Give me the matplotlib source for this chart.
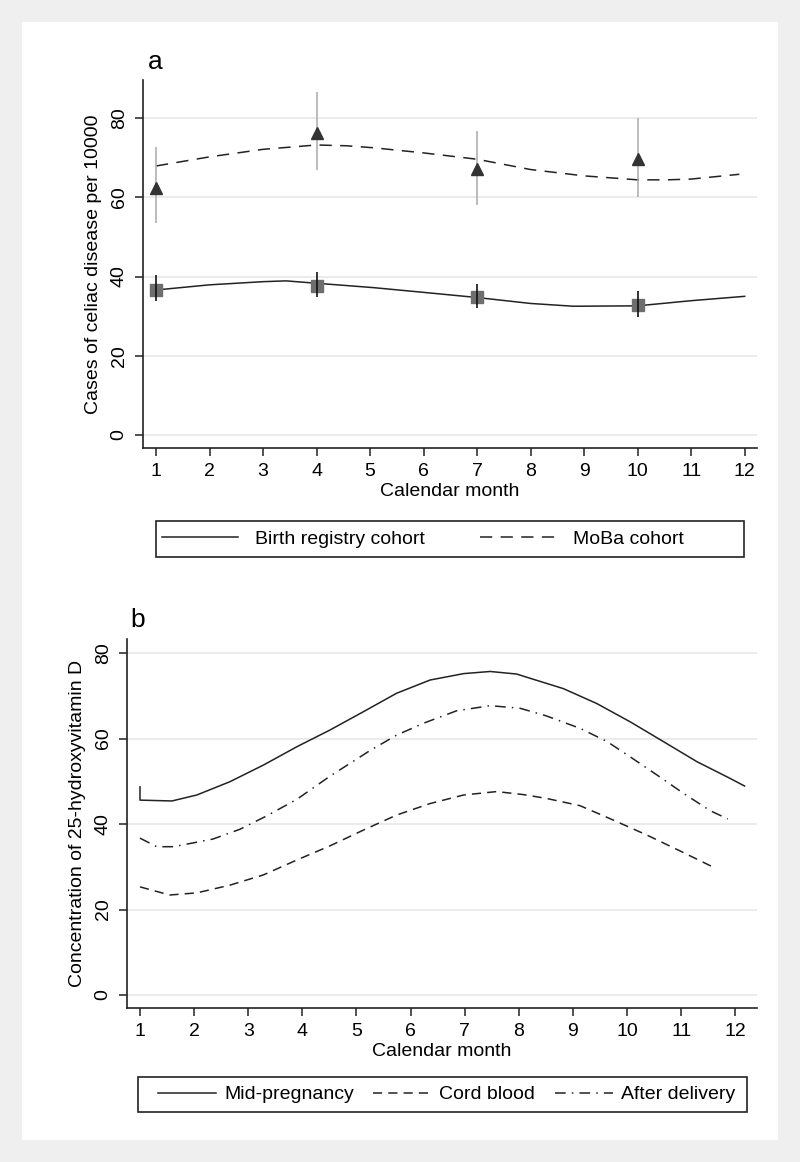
import matplotlib
matplotlib.use("Agg")
import matplotlib.pyplot as plt
from matplotlib.lines import Line2D
from matplotlib.patches import Rectangle

plt.rcParams['font.family'] = ['Liberation Sans', 'DejaVu Sans']

# panel a: celiac disease cases per 10000 by month of birth
obs_months = [1, 4, 7, 10]
moba_pts = [62.4, 76.3, 67.2, 69.7]
moba_lo = [53.5, 66.9, 58.1, 60.0]
moba_hi = [72.7, 86.6, 76.8, 80.0]
reg_pts = [36.6, 37.6, 34.8, 32.8]
reg_lo = [33.8, 34.8, 32.1, 29.8]
reg_hi = [40.4, 41.2, 38.1, 36.4]

moba_x = [1, 2, 3, 4, 4.56, 5.06, 6, 7, 8, 9, 10, 10.55, 11, 11.9]
moba_fit = [67.9, 70.2, 72.1, 73.2, 73.0, 72.5, 71.2, 69.6, 67.0, 65.4, 64.4, 64.4, 64.6, 65.8]
reg_x = [1, 2, 3, 3.43, 4, 5.06, 6, 7, 8, 8.8, 10, 11, 12]
reg_fit = [36.6, 37.9, 38.7, 38.9, 38.3, 37.2, 36.0, 34.7, 33.2, 32.5, 32.6, 33.9, 35.0]

# panel b: 25-hydroxyvitamin D by month
mid_x = [1, 1, 1.59, 2.05, 2.66, 3.28, 3.9, 4.51, 5.13, 5.74, 6.36, 6.98, 7.47, 7.96,
         8.21, 8.82, 9.44, 10.06, 10.67, 11.29, 11.9, 12.17]
mid_y = [48.7, 45.6, 45.4, 46.8, 49.9, 53.8, 58.1, 62.0, 66.3, 70.6, 73.7, 75.2, 75.7, 75.1,
         74.1, 71.7, 68.2, 63.9, 59.3, 54.6, 50.7, 48.9]
cord_x = [1, 1.55, 2.05, 2.66, 3.28, 3.9, 4.51, 5.13, 5.74, 6.36, 6.98, 7.59, 8.08,
          8.51, 9.13, 9.75, 10.37, 10.98, 11.61]
cord_y = [25.3, 23.4, 23.9, 25.7, 28.1, 31.6, 34.9, 38.6, 42.1, 44.8, 46.8, 47.6, 46.9,
          46.0, 44.3, 40.9, 37.4, 33.7, 29.8]
after_x = [1, 1.31, 1.62, 2.35, 2.85, 3.34, 3.9, 4.51, 5.25, 5.74, 6.24, 6.85, 7.47, 8.02,
           8.51, 9.13, 9.63, 10.06, 10.55, 11.04, 11.54, 11.86]
after_y = [36.7, 34.7, 34.7, 36.5, 38.8, 41.9, 45.8, 51.2, 57.2, 60.8, 63.6, 66.5, 67.7, 67.1,
           65.3, 62.4, 59.3, 55.7, 51.5, 47.2, 43.1, 41.2]

months = list(range(1, 13))
yticks = [0, 20, 40, 60, 80]

W, H = 800, 1162
fig = plt.figure(figsize=(8, 11.62), dpi=100, facecolor='#efefef')
fig.patches.append(Rectangle((22 / W, 1 - 1140 / H), 756 / W, 1118 / H,
                             transform=fig.transFigure, facecolor='white',
                             edgecolor='none', zorder=-5))


def px_axes(left, top, right, bottom):
    return fig.add_axes([left / W, 1 - bottom / H, (right - left) / W, (bottom - top) / H])


def px_box(left, top, right, bottom):
    fig.patches.append(Rectangle((left / W, 1 - bottom / H), (right - left) / W,
                                 (bottom - top) / H, transform=fig.transFigure,
                                 facecolor='none', edgecolor='#222222', lw=1.2, zorder=2))


def style(ax):
    ax.set_facecolor('white')
    for s in ['top', 'right']:
        ax.spines[s].set_visible(False)
    for s in ['left', 'bottom']:
        ax.spines[s].set_linewidth(1.2)
        ax.spines[s].set_color('#222222')
    ax.set_xticks(months)
    ax.set_yticks(yticks)
    ax.tick_params(length=6, width=1.1, color='#222222', labelsize=14, pad=5)
    for lab in ax.get_yticklabels():
        lab.set_rotation(90)
        lab.set_va('center')
    ax.grid(axis='y', color='#e6e6e6', linewidth=1.1)
    ax.set_axisbelow(True)
    ax.set_xlabel('Calendar month', fontsize=14, labelpad=2)


dash_a = (0, (8, 5.5))

# ---- panel a
ax1 = px_axes(143, 80, 757, 448)
style(ax1)
ax1.set_xlim(0.757, 12.23)
ax1.set_ylim(-3.28, 89.6)
ax1.plot(reg_x, reg_fit, color='#222222', lw=1.1)
ax1.plot(moba_x, moba_fit, color='#222222', lw=1.1, linestyle=dash_a)
ax1.vlines(obs_months, moba_lo, moba_hi, color='#aaaaaa', lw=1.1)
ax1.vlines(obs_months, reg_lo, reg_hi, color='#111111', lw=1.2, zorder=4)
ax1.plot(obs_months, moba_pts, linestyle='none', marker='^', ms=8, color='#333333', zorder=5)
ax1.plot(obs_months, reg_pts, linestyle='none', marker='s', ms=8, color='#6e6e6e', zorder=3)
ax1.set_ylabel('Cases of celiac disease per 10000', fontsize=14, labelpad=6)
fig.text(148 / W, 1 - 62 / H, 'a', fontsize=19, va='center', ha='left')

handles_a = [Line2D([], [], color='#222222', lw=1.1),
             Line2D([], [], color='#222222', lw=1.1, linestyle=dash_a)]
px_box(156, 521, 744, 557)
fig.legend(handles_a, ['Birth registry cohort', 'MoBa cohort'],
           loc='center left', bbox_to_anchor=(162 / W, 1 - 539 / H),
           ncol=2, fontsize=14, frameon=False, handlelength=3.9, borderaxespad=0,
           borderpad=0, handletextpad=0.9, columnspacing=2.8)

# ---- panel b
ax2 = px_axes(127, 639, 757, 1008)
style(ax2)
ax2.set_xlim(0.76, 12.40)
ax2.set_ylim(-3.04, 83.3)
dash_b = (0, (6, 4))
dashdot_b = (0, (7, 4, 1, 4))
ax2.plot(mid_x, mid_y, color='#222222', lw=1.1)
ax2.plot(cord_x, cord_y, color='#222222', lw=1.1, linestyle=dash_b)
ax2.plot(after_x, after_y, color='#222222', lw=1.1, linestyle=dashdot_b)
ax2.set_ylabel('Concentration of 25-hydroxyvitamin D', fontsize=14, labelpad=6)
fig.text(130 / W, 1 - 620 / H, 'b', fontsize=19, va='center', ha='left')

handles_b = [Line2D([], [], color='#222222', lw=1.1),
             Line2D([], [], color='#222222', lw=1.1, linestyle=dash_b),
             Line2D([], [], color='#222222', lw=1.1, linestyle=dashdot_b)]
px_box(138, 1077, 747, 1112)
fig.legend(handles_b, ['Mid-pregnancy', 'Cord blood', 'After delivery'],
           loc='center left', bbox_to_anchor=(158 / W, 1 - 1094.5 / H),
           ncol=3, fontsize=14, frameon=False, handlelength=3.0, borderaxespad=0,
           borderpad=0, handletextpad=0.4, columnspacing=1.0)

fig.savefig('out.png', dpi=100, facecolor=fig.get_facecolor())
